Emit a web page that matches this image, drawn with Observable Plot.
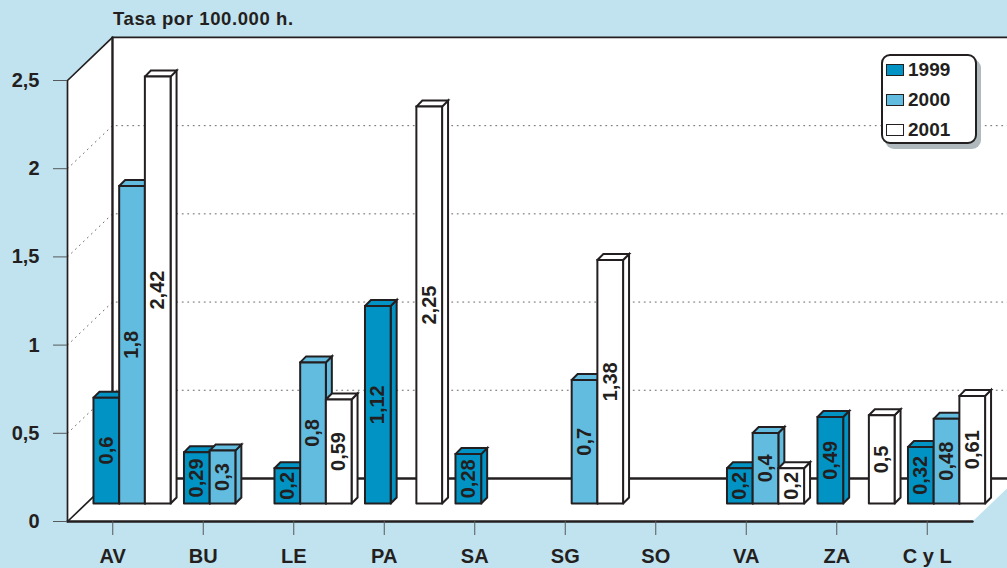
<!DOCTYPE html>
<html><head><meta charset="utf-8">
<script src="https://cdn.jsdelivr.net/npm/d3@7"></script>
<script src="https://cdn.jsdelivr.net/npm/@observablehq/plot@0.6"></script>
<style>
html,body{margin:0;padding:0;background:#C1E2EF;overflow:hidden}
#wrap{position:relative;width:1007px;height:568px;font-family:"Liberation Sans",Arial,sans-serif;color:#231F20;font-weight:bold}
#title{position:absolute;left:113px;top:9px;font-size:18.5px;line-height:20px;letter-spacing:.6px}
#legend{position:absolute;left:881px;top:54px;width:92px;height:86px;border:2px solid #231F20;border-radius:9px;background:#fff;box-shadow:4px 5px 0 #B0BABE;font-size:19px}
.row{position:absolute;left:3px;display:flex;align-items:center;height:14px}
.sw{width:16px;height:10px;border:1.5px solid #231F20;margin-right:4px}
svg{position:absolute;left:0;top:0;overflow:hidden}
</style></head><body><div id="wrap"><div id="title">Tasa por 100.000 h.</div></div>
<script>
const categories = ["AV","BU","LE","PA","SA","SG","SO","VA","ZA","C y L"];
const years = ["1999","2000","2001"];
const v1999 = [0.6,0.29,0.2,1.12,0.28,null,null,0.2,0.49,0.32];
const v2000 = [1.8,0.3,0.8,null,null,0.7,null,0.4,null,0.48];
const v2001 = [2.42,null,0.59,2.25,null,1.38,null,0.2,0.5,0.61];
const yTicks = [0,0.5,1,1.5,2,2.5];
const gridVals = [0.5,1,1.5,2];
const colors = ["#0093C4","#62BCDF","#FFFFFF"];
const ink = "#231F20";

// depth of the chart box, in data units
const DX = 0.497, DY = 0.244;
// bars: start offset in a category, width, depth
const BX = 0.287, BW = 0.284, BASE = 0.102, SX = 0.066, SY = 0.034;
const YMAX = 2.5, XMAX = categories.length;

const poly = (id, pts, fill) => pts.concat([pts[0]]).map(([x,y]) => ({id, x, y, fill}));
const seg = (id, pts) => pts.map(([x,y]) => ({id, x, y}));

const wallFills = [
  ...poly("left",[[0,0],[0,YMAX],[DX,YMAX+DY],[DX,DY]],"#fff"),
  ...poly("back",[[DX,DY],[DX,YMAX+DY],[XMAX+DX,YMAX+DY],[XMAX+DX,DY]],"#fff"),
  ...poly("floor",[[0,0],[XMAX,0],[XMAX+DX,DY],[DX,DY]],"#fff")
];
const gridLines = gridVals.flatMap(v => seg("g"+v,[[0,v],[DX,v+DY],[XMAX+DX,v+DY]]));
const thinEdges = [
  ...seg("e1",[[0,0],[0,YMAX],[DX,YMAX+DY],[XMAX+DX,YMAX+DY]]),
  ...seg("e2",[[0,0],[DX,DY]])
];
const thickEdges = [
  ...seg("t1",[[DX,DY],[DX,YMAX+DY]]),
  ...seg("t2",[[DX,DY],[XMAX+DX,DY]]),
  ...seg("t3",[[0,0],[XMAX,0]])
];

const faces = [], labels = [];
const series = [v1999,v2000,v2001];
categories.forEach((c,i) => {
  series.forEach((vals,s) => {
    const v = vals[i];
    if (v == null) return;
    const x0 = i + BX + s*BW, x1 = x0 + BW, y0 = BASE, y1 = BASE + v, f = colors[s];
    const k = c+s;
    faces.push(...poly(k+"side",[[x1,y0],[x1,y1],[x1+SX,y1+SY],[x1+SX,y0+SY]],f));
    faces.push(...poly(k+"top",[[x0,y1],[x1,y1],[x1+SX,y1+SY],[x0+SX,y1+SY]],f));
    faces.push(...poly(k+"front",[[x0,y0],[x0,y1],[x1,y1],[x1,y0]],f));
    labels.push({x:(x0+x1)/2, y:(y0+y1)/2, text:String(v).replace(".",",")});
  });
});

const lineOpts = {x:"x", y:"y", z:"id", strokeLinejoin:"miter", strokeMiterlimit:4};
const plot = Plot.plot({
  width:1007, height:568,
  marginLeft:67, marginRight:35, marginTop:80, marginBottom:47,
  x:{domain:[0,XMAX], axis:null},
  y:{domain:[0,YMAX], axis:null},
  color:{type:"identity"},
  style:{background:"transparent", fontFamily:'"Liberation Sans",Arial,sans-serif', color:ink, overflow:"hidden"},
  marks:[
    Plot.line(wallFills,{...lineOpts, fill:"fill", stroke:"none"}),
    Plot.line(gridLines,{...lineOpts, stroke:"#6a6a6a", strokeWidth:1, strokeDasharray:"1,4.5"}),
    Plot.line(thinEdges,{...lineOpts, stroke:ink, strokeWidth:1.7}),
    Plot.line(thickEdges,{...lineOpts, stroke:ink, strokeWidth:2.4}),
    Plot.axisY({ticks:yTicks, anchor:"left", tickSize:14, tickPadding:14, stroke:"#55595b",
      tickFormat:d=>String(d).replace(".",","), fontSize:20, fontWeight:"bold", label:null}),
    Plot.axisX({ticks:categories.map((c,i)=>i+0.5), anchor:"bottom", tickSize:14, tickPadding:13, stroke:"#55595b",
      tickFormat:d=>categories[Math.floor(d)], fontSize:20, fontWeight:"bold", label:null}),
    Plot.line(faces,{...lineOpts, fill:"fill", stroke:ink, strokeWidth:2}),
    Plot.text(labels,{x:"x", y:"y", text:"text", rotate:-90, fontSize:20, fontWeight:"bold", fill:ink})
  ]
});
const wrap = document.getElementById("wrap");
wrap.insertBefore(plot, wrap.firstChild);

const leg = document.createElement("div"); leg.id = "legend";
const tops = [7,37,67];
years.forEach((y,i) => {
  const r = document.createElement("div"); r.className="row"; r.style.top = tops[i]+"px";
  const s = document.createElement("span"); s.className="sw"; s.style.background = colors[i];
  r.appendChild(s); r.appendChild(document.createTextNode(y)); leg.appendChild(r);
});
wrap.appendChild(leg);
</script></body></html>
